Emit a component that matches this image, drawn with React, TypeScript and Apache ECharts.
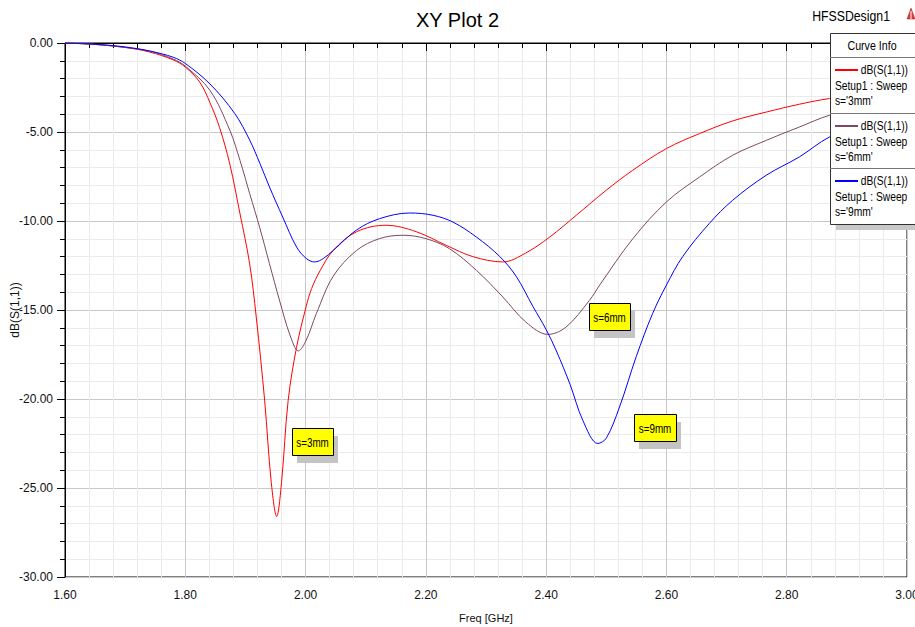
import React, { useEffect, useRef } from 'react';
import * as echarts from 'echarts';

const xTicks = { min: 1.6, max: 3.0, interval: 0.2 };
const yTicks = { min: -30, max: 0, interval: 5 };

const freq3 = [1.6, 1.65, 1.7, 1.74, 1.78, 1.8, 1.824, 1.841, 1.857, 1.874, 1.891, 1.907, 1.918, 1.932, 1.943, 1.952, 1.96, 1.971, 1.985, 2.001, 2.01, 2.024, 2.046, 2.085, 2.134, 2.184, 2.234, 2.278, 2.328, 2.366, 2.406, 2.45, 2.5, 2.544, 2.6, 2.655, 2.71, 2.766, 2.821, 2.871, 2.93, 3.0];
const db3 = [0, -0.08, -0.25, -0.5, -0.95, -1.35, -2.2, -3.35, -4.75, -6.8, -9.6, -12.4, -15.4, -20.1, -24.7, -26.6, -24.7, -20.1, -17.1, -14.8, -13.8, -12.8, -11.65, -10.6, -10.24, -10.6, -11.37, -12.0, -12.3, -11.8, -10.9, -9.68, -8.27, -7.15, -5.93, -5.09, -4.38, -3.88, -3.44, -3.12, -2.9, -2.75];

const freq6 = [1.6, 1.65, 1.7, 1.74, 1.78, 1.8, 1.841, 1.874, 1.891, 1.907, 1.924, 1.94, 1.957, 1.974, 1.988, 2.001, 2.018, 2.046, 2.085, 2.123, 2.162, 2.2, 2.239, 2.284, 2.328, 2.366, 2.403, 2.433, 2.472, 2.489, 2.544, 2.6, 2.655, 2.71, 2.766, 2.821, 2.871, 2.93, 3.0];
const db6 = [0, -0.08, -0.25, -0.45, -0.9, -1.3, -2.66, -4.9, -6.6, -8.45, -10.4, -12.4, -14.5, -16.4, -17.3, -16.7, -15.2, -13.1, -11.65, -10.99, -10.8, -10.99, -11.55, -12.77, -14.27, -15.67, -16.37, -15.96, -14.46, -13.6, -11.0, -8.93, -7.53, -6.31, -5.47, -4.72, -4.06, -3.6, -3.2];

const freq9 = [1.6, 1.65, 1.7, 1.741, 1.78, 1.8, 1.841, 1.882, 1.907, 1.924, 1.94, 1.962, 1.985, 2.001, 2.015, 2.03, 2.046, 2.085, 2.123, 2.173, 2.212, 2.245, 2.284, 2.323, 2.35, 2.378, 2.4, 2.417, 2.44, 2.461, 2.486, 2.5, 2.522, 2.55, 2.577, 2.6, 2.627, 2.671, 2.71, 2.766, 2.821, 2.871, 2.93, 3.0];
const db9 = [0, -0.07, -0.22, -0.45, -0.8, -1.15, -2.3, -3.95, -5.45, -6.76, -8.09, -9.78, -11.46, -12.1, -12.3, -12.1, -11.65, -10.5, -9.87, -9.55, -9.68, -10.06, -10.9, -12.0, -13.1, -14.8, -16.1, -17.3, -19.2, -21.2, -22.5, -22.2, -20.45, -17.6, -15.2, -13.6, -12.0, -10.15, -8.84, -7.43, -6.4, -5.28, -4.5, -3.7];

const curveNames = ["s='3mm'", "s='6mm'", "s='9mm'"];
const curveColors = ['#ff0000', '#7d4865', '#0000ff'];
const annotationTexts = ['s=3mm', 's=6mm', 's=9mm'];

const FONT = "'Liberation Sans', Arial, sans-serif";
const NARROW = 0.82;

const zip = (xs: number[], ys: number[]) => xs.map((x, i) => [x, ys[i]]);

const txt = (text: string, x: number, y: number, size: number, align: string, z = 102) => ({
  type: 'text',
  z,
  x,
  y,
  scaleX: NARROW,
  style: { text, font: `${size}px ${FONT}`, fill: '#000', textAlign: align, textVerticalAlign: 'middle' },
});

function buildGraphic() {
  const els: any[] = [];
  const lx = 830, ly = 33, lw = 92, lh = 191;
  els.push({ type: 'rect', z: 100, shape: { x: lx + 6, y: ly + 6, width: lw, height: lh }, style: { fill: '#c8c8c8' } });
  els.push({ type: 'rect', z: 101, shape: { x: lx + 0.5, y: ly + 0.5, width: lw, height: lh }, style: { fill: '#ffffff', stroke: '#333', lineWidth: 1 } });
  els.push(txt('Curve Info', 872, 46, 13, 'center'));
  const tops = [57, 113, 168];
  tops.forEach((t, i) => {
    els.push({ type: 'line', z: 102, shape: { x1: lx, y1: t + 0.5, x2: lx + lw, y2: t + 0.5 }, style: { stroke: '#777', lineWidth: 1 } });
    els.push({ type: 'line', z: 102, shape: { x1: 835, y1: t + 13, x2: 858, y2: t + 13 }, style: { stroke: curveColors[i], lineWidth: 2 } });
    els.push(txt('dB(S(1,1))', 908, t + 13, 12.5, 'right'));
    els.push(txt('Setup1 : Sweep', 835, t + 29, 12.5, 'left'));
    els.push(txt(curveNames[i], 835, t + 44, 12.5, 'left'));
  });
  els.push(txt('HFSSDesign1', 890, 16, 15, 'right'));
  els.push({ type: 'polygon', z: 102, shape: { points: [[907, 19], [911, 8], [915, 19]] }, style: { fill: '#d83a3a', stroke: '#b02020', lineWidth: 0.5 } });
  els.push({ type: 'line', z: 103, shape: { x1: 911, y1: 11, x2: 911, y2: 19 }, style: { stroke: '#fff', lineWidth: 1 } });
  const boxes = [
    { x: 292, y: 428, w: 41, h: 27 },
    { x: 589, y: 303, w: 41, h: 27 },
    { x: 634, y: 414, w: 42, h: 27 },
  ];
  boxes.forEach((b, i) => {
    els.push({ type: 'rect', z: 100, shape: { x: b.x + 5, y: b.y + 8, width: b.w, height: b.h }, style: { fill: '#c4c4c4' } });
    els.push({ type: 'rect', z: 101, shape: { x: b.x + 0.5, y: b.y + 0.5, width: b.w, height: b.h }, style: { fill: '#ffff00', stroke: '#000', lineWidth: 1 } });
    els.push(txt(annotationTexts[i], b.x + b.w / 2, b.y + b.h / 2 + 1, 12, 'center'));
  });
  return els;
}

export default function App() {
  const ref = useRef<HTMLDivElement>(null);
  useEffect(() => {
    const chart = echarts.init(ref.current!, null, { renderer: 'svg' });
    const axisCommon = {
      axisLine: { show: true, lineStyle: { color: '#000', width: 1 } },
      axisTick: { show: true, length: 8, lineStyle: { color: '#000', width: 1 } },
      minorTick: { show: true, splitNumber: 5, length: 5, lineStyle: { color: '#000', width: 1 } },
      splitLine: { show: true, lineStyle: { color: '#c8c8c8', width: 1 } },
      minorSplitLine: { show: true, lineStyle: { color: '#ebebeb', width: 1 } },
    };
    const series = [zip(freq3, db3), zip(freq6, db6), zip(freq9, db9)].map((d, i) => ({
      type: 'line',
      name: curveNames[i],
      data: d,
      showSymbol: false,
      symbol: 'none',
      smooth: 0.35,
      lineStyle: { color: curveColors[i], width: 1 },
      itemStyle: { color: curveColors[i] },
      z: 3,
    }));
    chart.setOption({
      animation: false,
      backgroundColor: '#ffffff',
      title: {
        text: 'XY Plot 2',
        left: 'center',
        top: 5,
        textStyle: { fontSize: 20, fontWeight: 'normal', color: '#000', fontFamily: FONT },
      },
      grid: {
        left: 65, right: 8, top: 43, bottom: 50,
        outerBoundsMode: 'none', containLabel: false,
        show: true, borderColor: '#000', borderWidth: 1, backgroundColor: 'transparent',
      },
      xAxis: {
        type: 'value',
        min: xTicks.min,
        max: xTicks.max,
        interval: xTicks.interval,
        ...axisCommon,
        axisLabel: { formatter: (v: number) => v.toFixed(2), margin: 12, fontSize: 12, color: '#111', fontFamily: FONT, showMinLabel: true, showMaxLabel: true },
        name: 'Freq [GHz]',
        nameLocation: 'middle',
        nameGap: 35,
        nameMoveOverlap: false,
        nameTextStyle: { fontSize: 11, color: '#111', fontFamily: FONT },
      },
      yAxis: {
        type: 'value',
        min: yTicks.min,
        max: yTicks.max,
        interval: yTicks.interval,
        ...axisCommon,
        axisLabel: { formatter: (v: number) => v.toFixed(2), margin: 12, fontSize: 12, color: '#111', fontFamily: FONT, showMinLabel: true, showMaxLabel: true },
        name: 'dB(S(1,1))',
        nameLocation: 'middle',
        nameGap: 44,
        nameMoveOverlap: false,
        nameTextStyle: { fontSize: 12, color: '#111', fontFamily: FONT },
      },
      series,
      graphic: { elements: buildGraphic() },
    });
    return () => chart.dispose();
  }, []);
  return <div ref={ref} style={{ position: 'fixed', left: 0, top: 0, width: 915, height: 627, background: '#fff' }} />;
}
